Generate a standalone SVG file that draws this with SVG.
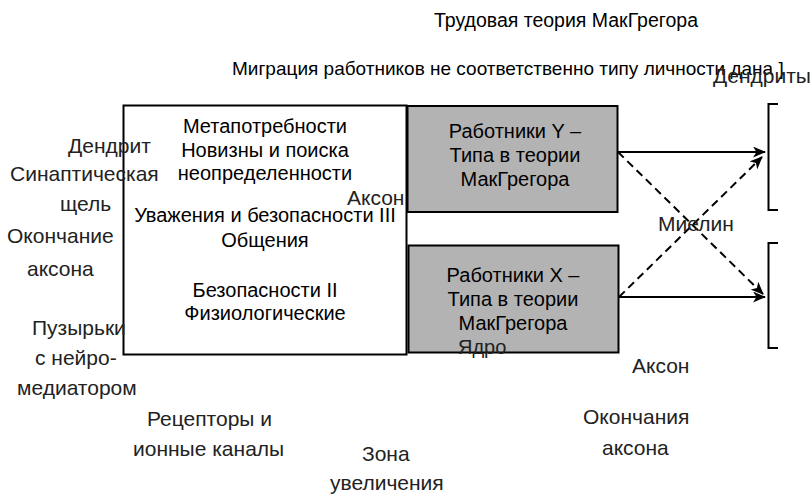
<svg xmlns="http://www.w3.org/2000/svg" width="812" height="494" viewBox="0 0 812 494">
<defs>
<style>
text{font-family:"Liberation Sans",Arial,sans-serif;font-size:20px;fill:#000}
.lbl{fill:#222;font-size:21px}
.ttl{font-size:19.5px}
.mig{font-size:19px}
.c{text-anchor:middle}
.box{fill:#fff;stroke:#000;stroke-width:2}
.gbox{fill:#b3b3b3;stroke:#000;stroke-width:2}
.edge{stroke:#000;stroke-width:2;fill:none}
.dash{stroke-dasharray:8 5}
.br{stroke:#000;stroke-width:2;fill:none}
</style>
<marker id="ah" viewBox="0 0 13 11" refX="12" refY="5.5" markerWidth="13" markerHeight="11" orient="auto" markerUnits="userSpaceOnUse">
<path d="M0,0 L13,5.5 L0,11 L3.5,5.5 z" fill="#000"/>
</marker>
</defs>
<rect width="812" height="494" fill="#fff"/>
<g id="title">
<text class="c ttl" x="566" y="27">Трудовая теория МакГрегора</text>
<text class="mig" x="232" y="75">Миграция работников не соответственно типу личности дана ]</text>
</g>
<g id="needs">
<rect class="box" x="123.5" y="105.5" width="283" height="249"/>
<text class="c" x="265" y="133">Метапотребности</text>
<text class="c" x="265" y="157">Новизны и поиска</text>
<text class="c" x="265" y="180">неопределенности</text>
<text class="c" x="265" y="222">Уважения и безопасности III</text>
<text class="c" x="265" y="247">Общения</text>
<text class="c" x="265" y="297">Безопасности II</text>
<text class="c" x="265" y="320">Физиологические</text>
</g>
<g id="typeY">
<rect class="gbox" x="407.5" y="106" width="210" height="106"/>
<text class="c" x="515" y="138">Работники Y –</text>
<text class="c" x="515" y="162">Типа в теории</text>
<text class="c" x="515" y="186">МакГрегора</text>
</g>
<g id="typeX">
<rect class="gbox" x="408.5" y="245.5" width="210" height="107"/>
<text class="c" x="513" y="282">Работники X –</text>
<text class="c" x="513" y="306">Типа в теории</text>
<text class="c" x="513" y="330">МакГрегора</text>
</g>
<g id="targetTop"><path class="br" d="M778,104 H768.5 V210 H778"/></g>
<g id="targetBottom"><path class="br" d="M778,243 H768.5 V348 H778"/></g>
<g id="connectors">
<line class="edge" x1="618" y1="152" x2="765" y2="152" marker-end="url(#ah)"/>
<line class="edge" x1="619" y1="297" x2="765" y2="297" marker-end="url(#ah)"/>
<line class="edge dash" x1="618" y1="152" x2="763" y2="294" marker-end="url(#ah)"/>
<line class="edge dash" x1="619" y1="297" x2="762" y2="157" marker-end="url(#ah)"/>
</g>
<g id="labels">
<text class="lbl" x="68" y="153">Дендрит</text>
<text class="lbl" x="10" y="181">Синаптическая</text>
<text class="lbl" x="60" y="211">щель</text>
<text class="lbl" x="7" y="243">Окончание</text>
<text class="lbl" x="27" y="276">аксона</text>
<text class="lbl" x="32" y="335">Пузырьки</text>
<text class="lbl" x="35" y="365">с нейро-</text>
<text class="lbl" x="17" y="395">медиатором</text>
<text class="lbl" x="147" y="426">Рецепторы и</text>
<text class="lbl" x="133" y="456">ионные каналы</text>
<text class="lbl" x="362" y="461">Зона</text>
<text class="lbl" x="330" y="490">увеличения</text>
<text class="lbl" x="347" y="205">Аксон</text>
<text class="lbl" x="658" y="231">Миелин</text>
<text class="lbl" x="632" y="373">Аксон</text>
<text class="lbl" x="583" y="424">Окончания</text>
<text class="lbl" x="602" y="455">аксона</text>
<text class="lbl" x="458" y="354" style="font-size:20px">Ядро</text>
<text class="lbl" x="713" y="83">Дендриты</text>
</g>
</svg>
